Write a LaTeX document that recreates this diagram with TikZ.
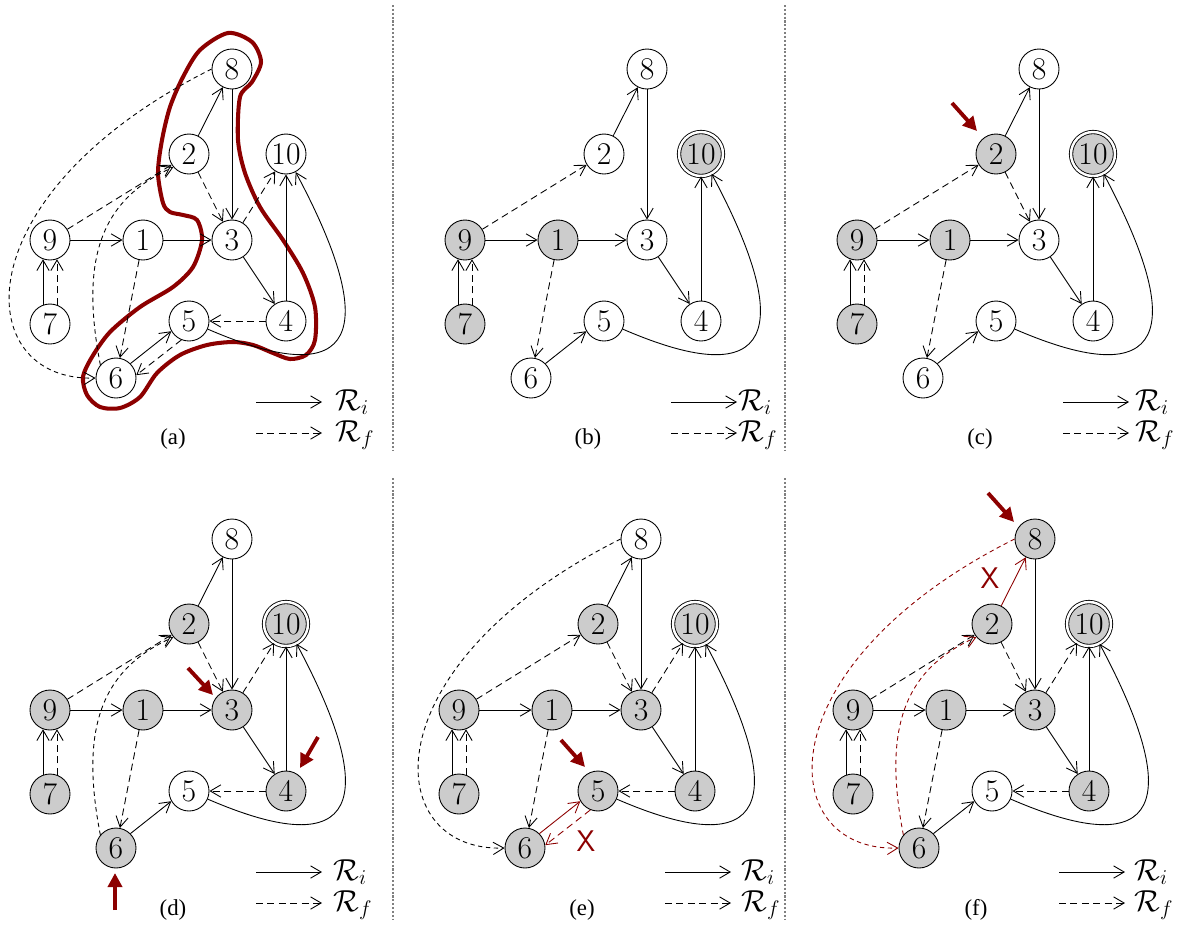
\documentclass[tikz,border=0pt]{standalone}
\usepackage{fontspec}
\usetikzlibrary{arrows.meta}
\newfontfamily\capfont{Liberation Serif}
\definecolor{dred}{RGB}{140,0,0}

\tikzset{
  st/.style={circle, draw, line width=0.5pt, minimum size=0.8cm, inner sep=0pt, fill=white, font=\fontsize{18}{20}\selectfont},
  seen/.style={st, fill=black!20},
  goal/.style={seen, double, double distance=1.4pt, minimum size=0.88cm},
  ri/.style={-{Straight Barb[length=6pt,width=7pt]}, line width=0.5pt},
  rf/.style={ri, dash pattern=on 4pt off 2.5pt},
  rfc/.style={ri, dash pattern=on 2.5pt off 2pt},
  hint/.style={-{Triangle[length=8pt,width=8pt]}, line width=2.2pt, dred},
  bad/.style={dred, inner sep=0pt, font=\sffamily\fontsize{17}{17}\selectfont},
  lgd/.style={anchor=base west, inner sep=0pt, font=\fontsize{17}{20}\selectfont},
  panlabel/.style={font=\capfont\fontsize{13}{14}\selectfont},
  sep/.style={gray, line width=0.6pt, dash pattern=on 1.2pt off 1pt},
}

\begin{document}
\begin{tikzpicture}[x=0.02cm, y=-0.02cm]
  \useasboundingbox (0,0) rectangle (1186,924);

  % Separators
  \draw[sep] (393,5) -- (393,450);
  \draw[sep] (785,5) -- (785,450);
  \draw[sep] (393,478) -- (393,920);
  \draw[sep] (785,478) -- (785,920);

  % (a)
  \begin{scope}
    \draw[dred, line width=2.3pt] plot[smooth cycle] coordinates {
      (228,33) (252,42) (261,62) (252,82) (240,97) (238,140) (245,173)
      (260,207) (283,240) (303,273) (315,307) (315,340) (306,355) (290,359)
      (273,353) (253,345) (233,342) (207,345) (180,355) (157,373) (140,397)
      (120,408) (100,407) (87,395) (83,377) (92,357) (110,332) (140,307)
      (173,287) (193,267) (202,240) (197,220) (183,215) (170,212) (163,203)
      (158,173) (162,140) (170,107) (183,77) (200,50)};
    \node[st] (a1) at (143,240) {1};
    \node[st] (a2) at (189,154) {2};
    \node[st] (a3) at (232,240) {3};
    \node[st] (a4) at (286,321) {4};
    \node[st] (a5) at (189,321) {5};
    \node[st] (a6) at (116,378) {6};
    \node[st] (a7) at (50,324) {7};
    \node[st] (a8) at (232,69) {8};
    \node[st] (a9) at (50,240) {9};
    \node[st] (a10) at (286,154) {10};
    \draw[ri] (a9) -- (a1);
    \draw[ri] (a1) -- (a3);
    \draw[ri] (a2) -- (a8);
    \draw[ri] (a8) -- (a3);
    \draw[ri] (a3) -- (a4);
    \draw[ri] (a4) -- (a10);
    \draw[ri] (a7.110) -- (a9.250);
    \draw[rf] (a7.70) -- (a9.290);
    \draw[rf] (a9) -- (a2);
    \draw[rf] (a1) -- (a6);
    \draw[rf] (a2) -- (a3);
    \draw[rf] (a3) -- (a10);
    \draw[rf] (a4) -- (a5);
    \draw[ri] (a6.45) -- (a5.210);
    \draw[rf] (a5.248) -- (a6.8);
    \draw[ri] (a5) .. controls (360,395) and (380,330) .. (a10);
    \draw[rfc] (a8.west) .. controls (-40,195) and (-30,382) .. (a6.west);
    \draw[rfc] (a6.140) .. controls (80,260) and (100,200) .. (a2.220);
    % legend
    \coordinate (a-i1) at (256,402);
    \coordinate (a-i2) at (322,402);
    \coordinate (a-f1) at (256,433);
    \coordinate (a-f2) at (322,433);
    \draw[ri] (a-i1) -- (a-i2);
    \draw[rf] (a-f1) -- (a-f2);
    \node[lgd] (a-ri) at (335,410) {$\mathcal{R}_i$};
    \node[lgd] (a-rf) at (335,441) {$\mathcal{R}_f$};
    \node[panlabel] (a-cap) at (173,439) {(a)};
  \end{scope}

  % (b)
  \begin{scope}[shift={(415,0)}]
    \node[seen] (b1) at (143,240) {1};
    \node[st] (b2) at (189,154) {2};
    \node[st] (b3) at (232,240) {3};
    \node[st] (b4) at (286,321) {4};
    \node[st] (b5) at (189,321) {5};
    \node[st] (b6) at (116,378) {6};
    \node[seen] (b7) at (50,324) {7};
    \node[st] (b8) at (232,69) {8};
    \node[seen] (b9) at (50,240) {9};
    \node[goal] (b10) at (286,154) {10};
    \draw[ri] (b9) -- (b1);
    \draw[ri] (b1) -- (b3);
    \draw[ri] (b2) -- (b8);
    \draw[ri] (b8) -- (b3);
    \draw[ri] (b3) -- (b4);
    \draw[ri] (b4) -- (b10);
    \draw[ri] (b7.110) -- (b9.250);
    \draw[rf] (b7.70) -- (b9.290);
    \draw[rf] (b9) -- (b2);
    \draw[rf] (b1) -- (b6);
    \draw[ri] (b6.45) -- (b5.210);
    \draw[ri] (b5) .. controls (360,395) and (380,330) .. (b10);
    % legend
    \coordinate (b-i1) at (256,402);
    \coordinate (b-i2) at (322,402);
    \coordinate (b-f1) at (256,433);
    \coordinate (b-f2) at (322,433);
    \draw[ri] (b-i1) -- (b-i2);
    \draw[rf] (b-f1) -- (b-f2);
    \node[lgd] (b-ri) at (323,410) {$\mathcal{R}_i$};
    \node[lgd] (b-rf) at (323,441) {$\mathcal{R}_f$};
    \node[panlabel] (b-cap) at (173,439) {(b)};
  \end{scope}

  % (c)
  \begin{scope}[shift={(807,0)}]
    \node[seen] (c1) at (143,240) {1};
    \node[seen] (c2) at (189,154) {2};
    \node[st] (c3) at (232,240) {3};
    \node[st] (c4) at (286,321) {4};
    \node[st] (c5) at (189,321) {5};
    \node[st] (c6) at (116,378) {6};
    \node[seen] (c7) at (50,324) {7};
    \node[st] (c8) at (232,69) {8};
    \node[seen] (c9) at (50,240) {9};
    \node[goal] (c10) at (286,154) {10};
    \draw[ri] (c9) -- (c1);
    \draw[ri] (c1) -- (c3);
    \draw[ri] (c2) -- (c8);
    \draw[ri] (c8) -- (c3);
    \draw[ri] (c3) -- (c4);
    \draw[ri] (c4) -- (c10);
    \draw[ri] (c7.110) -- (c9.250);
    \draw[rf] (c7.70) -- (c9.290);
    \draw[rf] (c9) -- (c2);
    \draw[rf] (c1) -- (c6);
    \draw[rf] (c2) -- (c3);
    \draw[ri] (c6.45) -- (c5.210);
    \draw[ri] (c5) .. controls (360,395) and (380,330) .. (c10);
    % pointer
    \coordinate (c-p1) at (145,103);
    \coordinate (c-p2) at (170,131);
    \draw[hint] (c-p1) -- (c-p2);
    % legend
    \coordinate (c-i1) at (256,402);
    \coordinate (c-i2) at (322,402);
    \coordinate (c-f1) at (256,433);
    \coordinate (c-f2) at (322,433);
    \draw[ri] (c-i1) -- (c-i2);
    \draw[rf] (c-f1) -- (c-f2);
    \node[lgd] (c-ri) at (328,410) {$\mathcal{R}_i$};
    \node[lgd] (c-rf) at (328,441) {$\mathcal{R}_f$};
    \node[panlabel] (c-cap) at (173,439) {(c)};
  \end{scope}

  % (d)
  \begin{scope}[shift={(0,470)}]
    \node[seen] (d1) at (143,240) {1};
    \node[seen] (d2) at (189,154) {2};
    \node[seen] (d3) at (232,240) {3};
    \node[seen] (d4) at (286,321) {4};
    \node[st] (d5) at (189,321) {5};
    \node[seen] (d6) at (116,378) {6};
    \node[seen] (d7) at (50,324) {7};
    \node[st] (d8) at (232,69) {8};
    \node[seen] (d9) at (50,240) {9};
    \node[goal] (d10) at (286,154) {10};
    \draw[ri] (d9) -- (d1);
    \draw[ri] (d1) -- (d3);
    \draw[ri] (d2) -- (d8);
    \draw[ri] (d8) -- (d3);
    \draw[ri] (d3) -- (d4);
    \draw[ri] (d4) -- (d10);
    \draw[ri] (d7.110) -- (d9.250);
    \draw[rf] (d7.70) -- (d9.290);
    \draw[rf] (d9) -- (d2);
    \draw[rf] (d1) -- (d6);
    \draw[rf] (d2) -- (d3);
    \draw[rf] (d3) -- (d10);
    \draw[rf] (d4) -- (d5);
    \draw[ri] (d6.45) -- (d5.210);
    \draw[ri] (d5) .. controls (360,395) and (380,330) .. (d10);
    \draw[rfc] (d6.140) .. controls (80,260) and (100,200) .. (d2.220);
    % pointers
    \coordinate (d-p1) at (188,198);
    \coordinate (d-p2) at (213,225);
    \coordinate (d-q1) at (318,267);
    \coordinate (d-q2) at (300,298);
    \coordinate (d-r1) at (115,440);
    \coordinate (d-r2) at (115,403);
    \draw[hint] (d-p1) -- (d-p2);
    \draw[hint] (d-q1) -- (d-q2);
    \draw[hint] (d-r1) -- (d-r2);
    % legend
    \coordinate (d-i1) at (256,402);
    \coordinate (d-i2) at (322,402);
    \coordinate (d-f1) at (256,433);
    \coordinate (d-f2) at (322,433);
    \draw[ri] (d-i1) -- (d-i2);
    \draw[rf] (d-f1) -- (d-f2);
    \node[lgd] (d-ri) at (333,410) {$\mathcal{R}_i$};
    \node[lgd] (d-rf) at (333,441) {$\mathcal{R}_f$};
    \node[panlabel] (d-cap) at (173,440) {(d)};
  \end{scope}

  % (e)
  \begin{scope}[shift={(409,470)}]
    \node[seen] (e1) at (143,240) {1};
    \node[seen] (e2) at (189,154) {2};
    \node[seen] (e3) at (232,240) {3};
    \node[seen] (e4) at (286,321) {4};
    \node[seen] (e5) at (189,321) {5};
    \node[seen] (e6) at (116,378) {6};
    \node[seen] (e7) at (50,324) {7};
    \node[st] (e8) at (232,69) {8};
    \node[seen] (e9) at (50,240) {9};
    \node[goal] (e10) at (286,154) {10};
    \draw[ri] (e9) -- (e1);
    \draw[ri] (e1) -- (e3);
    \draw[ri] (e2) -- (e8);
    \draw[ri] (e8) -- (e3);
    \draw[ri] (e3) -- (e4);
    \draw[ri] (e4) -- (e10);
    \draw[ri] (e7.110) -- (e9.250);
    \draw[rf] (e7.70) -- (e9.290);
    \draw[rf] (e9) -- (e2);
    \draw[rf] (e1) -- (e6);
    \draw[rf] (e2) -- (e3);
    \draw[rf] (e3) -- (e10);
    \draw[rf] (e4) -- (e5);
    \draw[ri, dred] (e6.45) -- (e5.210);
    \draw[rf, dred] (e5.248) -- (e6.8);
    \draw[ri] (e5) .. controls (360,395) and (380,330) .. (e10);
    \draw[rfc] (e8.west) .. controls (-40,195) and (-30,382) .. (e6.west);
    % pointer and cut
    \coordinate (e-p1) at (152,270);
    \coordinate (e-p2) at (176,297);
    \draw[hint] (e-p1) -- (e-p2);
    \node[bad] (e-x) at (177,371) {X};
    % legend
    \coordinate (e-i1) at (256,402);
    \coordinate (e-i2) at (322,402);
    \coordinate (e-f1) at (256,433);
    \coordinate (e-f2) at (322,433);
    \draw[ri] (e-i1) -- (e-i2);
    \draw[rf] (e-f1) -- (e-f2);
    \node[lgd] (e-ri) at (332,410) {$\mathcal{R}_i$};
    \node[lgd] (e-rf) at (332,441) {$\mathcal{R}_f$};
    \node[panlabel] (e-cap) at (173,440) {(e)};
  \end{scope}

  % (f)
  \begin{scope}[shift={(803,470)}]
    \node[seen] (f1) at (143,240) {1};
    \node[seen] (f2) at (189,154) {2};
    \node[seen] (f3) at (232,240) {3};
    \node[seen] (f4) at (286,321) {4};
    \node[st] (f5) at (189,321) {5};
    \node[seen] (f6) at (116,378) {6};
    \node[seen] (f7) at (50,324) {7};
    \node[seen] (f8) at (232,69) {8};
    \node[seen] (f9) at (50,240) {9};
    \node[goal] (f10) at (286,154) {10};
    \draw[ri] (f9) -- (f1);
    \draw[ri] (f1) -- (f3);
    \draw[ri, dred] (f2) -- (f8);
    \draw[ri] (f8) -- (f3);
    \draw[ri] (f3) -- (f4);
    \draw[ri] (f4) -- (f10);
    \draw[ri] (f7.110) -- (f9.250);
    \draw[rf] (f7.70) -- (f9.290);
    \draw[rf] (f9) -- (f2);
    \draw[rf] (f1) -- (f6);
    \draw[rf] (f2) -- (f3);
    \draw[rf] (f3) -- (f10);
    \draw[rf] (f4) -- (f5);
    \draw[ri] (f6.45) -- (f5.210);
    \draw[ri] (f5) .. controls (360,395) and (380,330) .. (f10);
    \draw[rfc, dred] (f8.west) .. controls (-40,195) and (-30,382) .. (f6.west);
    \draw[rfc, dred] (f6.140) .. controls (80,260) and (100,200) .. (f2.220);
    % pointer and cut
    \coordinate (f-p1) at (185,23);
    \coordinate (f-p2) at (211,52);
    \draw[hint] (f-p1) -- (f-p2);
    \node[bad] (f-x) at (187,108) {X};
    % legend
    \coordinate (f-i1) at (256,402);
    \coordinate (f-i2) at (322,402);
    \coordinate (f-f1) at (256,433);
    \coordinate (f-f2) at (322,433);
    \draw[ri] (f-i1) -- (f-i2);
    \draw[rf] (f-f1) -- (f-f2);
    \node[lgd] (f-ri) at (331,410) {$\mathcal{R}_i$};
    \node[lgd] (f-rf) at (331,441) {$\mathcal{R}_f$};
    \node[panlabel] (f-cap) at (173,440) {(f)};
  \end{scope}
\end{tikzpicture}
\end{document}
